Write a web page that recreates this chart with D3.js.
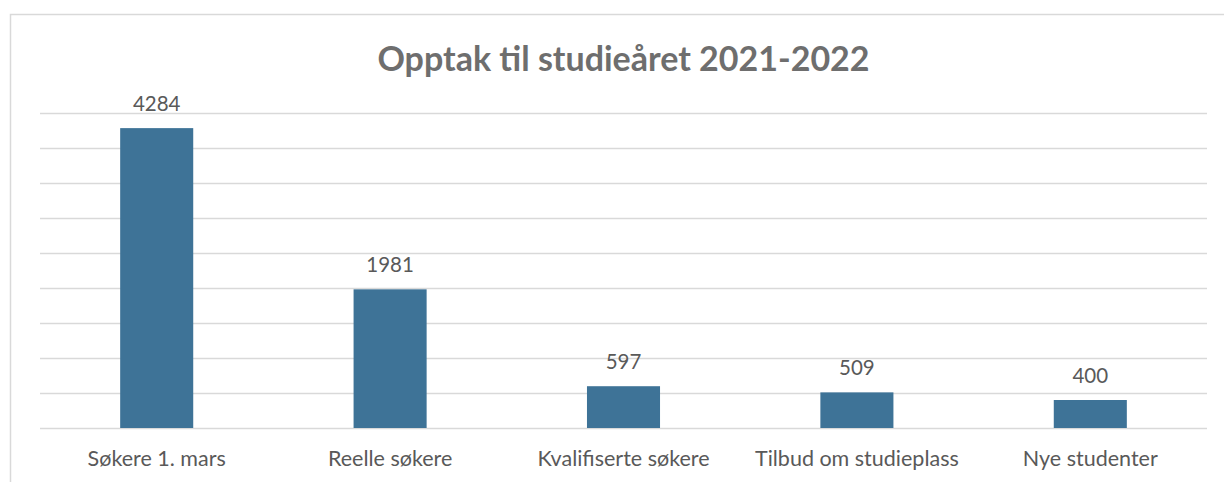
<!DOCTYPE html>
<html>
<head>
<meta charset="utf-8">
<script src="https://cdn.jsdelivr.net/npm/d3@7/dist/d3.min.js"></script>
<style>
  body { margin: 0; background: #fff; }
  svg { display: block; font-family: Lato, "Open Sans", sans-serif; }
</style>
</head>
<body>
<div id="chart"></div>
<script>
// =========================
// DATA
// =========================
const categories = ["Søkere 1. mars", "Reelle søkere", "Kvalifiserte søkere", "Tilbud om studieplass", "Nye studenter"];
const values = [4284, 1981, 597, 509, 400];
const gridTicks = [0, 500, 1000, 1500, 2000, 2500, 3000, 3500, 4000, 4500];
const title = "Opptak til studieåret 2021-2022";

const W = 1224, H = 482;
const margin = { top: 113, right: 17, bottom: 54, left: 40 };
const width = W - margin.left - margin.right;
const height = H - margin.top - margin.bottom;

const svg = d3.select("#chart")
    .append("svg")
    .attr("width", W)
    .attr("height", H);

// chart frame
svg.append("rect")
    .attr("x", 10.5)
    .attr("y", 14.5)
    .attr("width", W)
    .attr("height", H)
    .attr("fill", "none")
    .attr("stroke", "#d9d9d9")
    .attr("stroke-width", 1.5);

const g = svg.append("g")
    .attr("transform", `translate(${margin.left},${margin.top})`);

const x = d3.scaleBand()
    .domain(categories)
    .range([0, width])
    .paddingInner(0.687)
    .paddingOuter(0.687 / 2);

const y = d3.scaleLinear()
    .domain([0, 4500])
    .range([height, 0]);

// gridlines
g.append("g")
    .selectAll("line")
    .data(gridTicks)
    .enter()
    .append("line")
    .attr("x1", 0)
    .attr("x2", width)
    .attr("y1", d => Math.round(y(d)) + 0.5)
    .attr("y2", d => Math.round(y(d)) + 0.5)
    .attr("stroke", "#d9d9d9")
    .attr("stroke-width", 1.5);

// bars
g.selectAll(".bar")
    .data(values)
    .enter()
    .append("rect")
    .attr("class", "bar")
    .attr("x", (d, i) => x(categories[i]))
    .attr("y", d => y(d))
    .attr("width", x.bandwidth())
    .attr("height", d => height - y(d))
    .attr("fill", "#3e7397");

// value labels
g.selectAll(".val")
    .data(values)
    .enter()
    .append("text")
    .attr("class", "val")
    .attr("x", (d, i) => x(categories[i]) + x.bandwidth() / 2)
    .attr("y", d => y(d) - 17)
    .attr("text-anchor", "middle")
    .style("font-size", "20.5px")
    .style("fill", "#595959")
    .text(d => d);

// x axis labels
const xAxis = g.append("g")
    .attr("transform", `translate(0,${height})`)
    .call(d3.axisBottom(x).tickSize(0).tickPadding(22.5));
xAxis.select(".domain").remove();
xAxis.selectAll("text")
    .style("font-family", "Lato, 'Open Sans', sans-serif")
    .style("font-size", "21.5px")
    .style("fill", "#595959");

// title
svg.append("text")
    .attr("x", margin.left + width / 2)
    .attr("y", 71)
    .attr("text-anchor", "middle")
    .style("font-size", "34px")
    .style("font-weight", "bold")
    .style("fill", "#6e6e6e")
    .text(title);
</script>
</body>
</html>
